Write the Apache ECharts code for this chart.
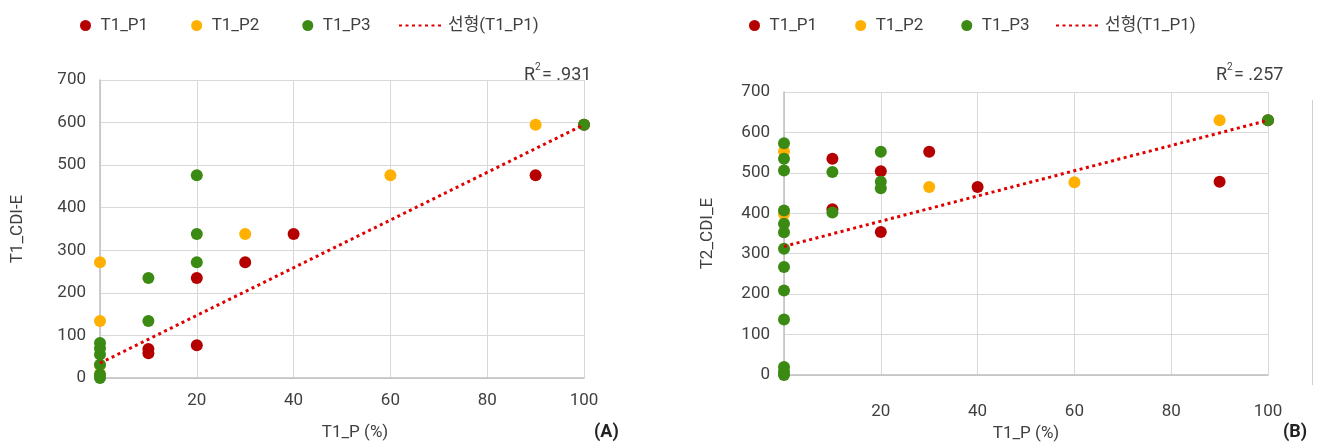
<!DOCTYPE html>
<html><head><meta charset="utf-8">
<script src="https://cdn.jsdelivr.net/npm/echarts@6/dist/echarts.min.js"></script>
<style>html,body{margin:0;padding:0;background:#fff}#c{width:1325px;height:444px}</style>
</head><body><div id="c"></div>
<script>
// ---- data: chart A (T1_CDI-E vs T1_P) ----
const a_P1 = [[10,68],[10,58],[20,235],[20,77],[30,272],[40,338],[90,476],[100,595]];
const a_P2 = [[0,8],[0,30],[0,134],[0,272],[30,338],[60,476],[90,595]];
const a_P3 = [[0,0],[0,8],[0,31],[0,55],[0,70],[0,82],[10,134],[10,235],[20,272],[20,338],[20,476],[100,595]];
const a_trend = [[0,35],[100,595]];
// ---- data: chart B (T2_CDI_E vs T1_P) ----
const b_P1 = [[10,535],[10,410],[20,504],[20,354],[30,552],[40,465],[90,478],[100,630]];
const b_P2 = [[0,553],[0,398],[30,465],[60,477],[90,630]];
const b_P3 = [[0,0],[0,8],[0,20],[0,137],[0,209],[0,267],[0,312],[0,353],[0,374],[0,407],[0,506],[0,535],[0,573],
              [10,502],[10,402],[20,552],[20,478],[20,462],[100,630]];
const b_trend = [[0,318],[100,630]];
const xTicks = [0,20,40,60,80,100];
const yTicks = [0,100,200,300,400,500,600,700];
const names = ['T1_P1','T1_P2','T1_P3','선형(T1_P1)'];
const r2 = ['.931','.257'];
const yNames = ['T1_CDI-E','T2_CDI_E'];
const xName = 'T1_P (%)';
const panelTags = ['(A)','(B)'];

const FONT = 'Roboto, "Noto Sans CJK KR", sans-serif';
const TXT = '#404040';
const colors = ['#B50000','#FFB000','#3A8A14'];
const trendColor = '#E00000';

function xAxis(gi, margin, gap){
  return {type:'value', gridIndex:gi, min:xTicks[0], max:xTicks[xTicks.length-1], interval:20,
    name:xName, nameLocation:'middle', nameGap:gap,
    nameTextStyle:{fontFamily:FONT,fontSize:17,color:TXT,padding: gi===0?[0,0,0,26]:[0,0,0,0]},
    axisLine:{show:true,lineStyle:{color:'#bfbfbf',width:1.5}}, axisTick:{show:false},
    axisLabel:{fontFamily:FONT,fontSize:17,color:TXT,margin:margin,formatter:v=>v===0?'':String(v)},
    splitLine:{show:true,lineStyle:{color:'#d9d9d9',width:1}}};
}
function yAxis(gi, gap){
  return {type:'value', gridIndex:gi, min:yTicks[0], max:yTicks[yTicks.length-1], interval:100,
    name:yNames[gi], nameLocation:'middle', nameGap:gap, nameRotate:90,
    nameTextStyle:{fontFamily:FONT,fontSize:17,color:TXT},
    axisLine:{show:true,lineStyle:{color:'#bfbfbf',width:1.5}}, axisTick:{show:false},
    axisLabel:{fontFamily:FONT,fontSize:17,color:TXT,margin:14},
    splitLine:{show:true,lineStyle:{color:'#d9d9d9',width:1}}};
}
function scatter(name, data, gi, ci){
  return {type:'scatter', name, data, xAxisIndex:gi, yAxisIndex:gi, symbolSize:12,
    itemStyle:{color:colors[ci], opacity:1}, emphasis:{disabled:true}, animation:false};
}
function trend(data, gi){
  return {type:'line', name:names[3], data, xAxisIndex:gi, yAxisIndex:gi, symbol:'none', showSymbol:false,
    lineStyle:{color:trendColor, width:3, type:[3,3.5]}, itemStyle:{color:trendColor}, z:5, animation:false};
}
function legends(scLeft, gap, lnLeft){
  const ts = {fontFamily:FONT,fontSize:17,color:TXT};
  return [
    {left:scLeft, top:12, itemWidth:20, itemHeight:11, itemGap:gap, icon:'circle', textStyle:ts,
     data:names.slice(0,3), selectedMode:false},
    {left:lnLeft, top:12, itemWidth:44, itemHeight:11, itemGap:10, textStyle:ts,
     itemStyle:{opacity:0}, data:[names[3]], selectedMode:false}
  ];
}
function txt(x,y,t,size){
  return {type:'text', left:x, top:y, style:{text:t, font:(size||17)+'px '+FONT, fill:TXT}};
}

const option = {
  animation:false,
  grid:[{left:100, top:80, width:484, height:298, outerBoundsMode:'none', containLabel:false},
        {left:784, top:92, width:484, height:283, outerBoundsMode:'none', containLabel:false}],
  xAxis:[xAxis(0,14,46), xAxis(1,28,49)],
  yAxis:[yAxis(0,74), yAxis(1,68)],
  legend:[...legends(75,43,393), ...legends(744,38,1050)],
  series:[
    scatter(names[0],a_P1,0,0), scatter(names[1],a_P2,0,1), scatter(names[2],a_P3,0,2), trend(a_trend,0),
    scatter(names[0],b_P1,1,0), scatter(names[1],b_P2,1,1), scatter(names[2],b_P3,1,2), trend(b_trend,1)
  ],
  graphic:[
    txt(524,67,'R',18), txt(535,63,'2',10), txt(542,67,'= '+r2[0],18),
    txt(1216,67,'R',18), txt(1227,63,'2',10), txt(1234,67,'= '+r2[1],18),
    {type:'text', left:594, top:424, style:{text:panelTags[0], font:'bold 18px '+FONT, fill:'#222'}},
    {type:'text', left:1283, top:424, style:{text:panelTags[1], font:'bold 18px '+FONT, fill:'#222'}},
    {type:'line', shape:{x1:1312.5,y1:100,x2:1312.5,y2:385}, style:{stroke:'#d0d0d0',lineWidth:1}}
  ]
};
const chart = echarts.init(document.getElementById('c'), null, {renderer:'canvas'});
chart.setOption(option);
</script></body></html>
